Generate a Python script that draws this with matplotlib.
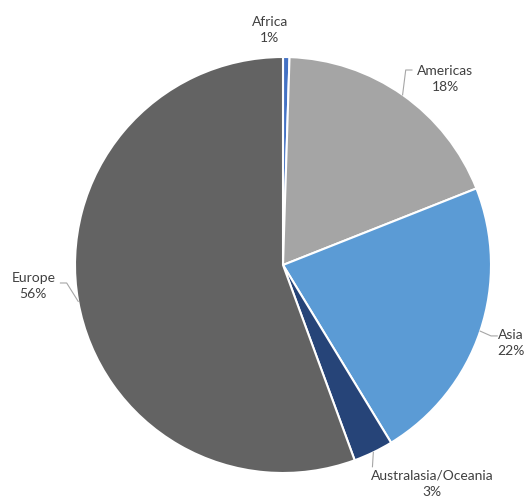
import matplotlib.pyplot as plt
import numpy as np

regions = ['Africa', 'Americas', 'Asia', 'Australasia/Oceania', 'Europe']
shares = [0.5, 18.5, 22.3, 3.1, 55.6]
pct_labels = ['1%', '18%', '22%', '3%', '56%']
colors = ['#4472C4', '#A5A5A5', '#5B9BD5', '#264478', '#636363']

# label centre positions (data units, pie radius = 1)
label_pos = [(-0.063, 1.13), (0.779, 0.895), (1.095, -0.375), (0.716, -1.05), (-1.20, -0.10)]
# end of the leader line next to the text, None = no leader
leader_end = [None, (0.62, 0.9375), (1.03, -0.341), (0.43, -0.97), (-1.07, -0.0865)]

plt.rcParams['font.family'] = ['Lato', 'DejaVu Sans']

fig = plt.figure(figsize=(5.25, 4.99), dpi=100)
ax = fig.add_axes([75 / 525, 26 / 499, 416 / 525, 416 / 499])

wedges, _ = ax.pie(shares, colors=colors, startangle=90, counterclock=False,
                   radius=1, wedgeprops=dict(edgecolor='white', linewidth=1.5))

for w, name, pct, pos, end in zip(wedges, regions, pct_labels, label_pos, leader_end):
    ax.text(pos[0], pos[1], name + '\n' + pct, ha='center', va='center',
            fontsize=10, color='#404040', linespacing=1.45)
    if end is None:
        continue
    mid = np.deg2rad((w.theta1 + w.theta2) / 2)
    p0 = (np.cos(mid), np.sin(mid))
    if abs(end[0] - p0[0]) < 0.02:
        xs, ys = [p0[0], end[0]], [p0[1], end[1]]
    else:
        step = 0.03 if end[0] > p0[0] else -0.03
        xs = [p0[0], end[0] - step, end[0]]
        ys = [p0[1], end[1], end[1]]
    ax.plot(xs, ys, color='#A6A6A6', lw=0.8, clip_on=False)

ax.set_xlim(-1, 1)
ax.set_ylim(-1, 1)
ax.set_aspect('equal')
ax.axis('off')

fig.savefig('out.png', dpi=100)
